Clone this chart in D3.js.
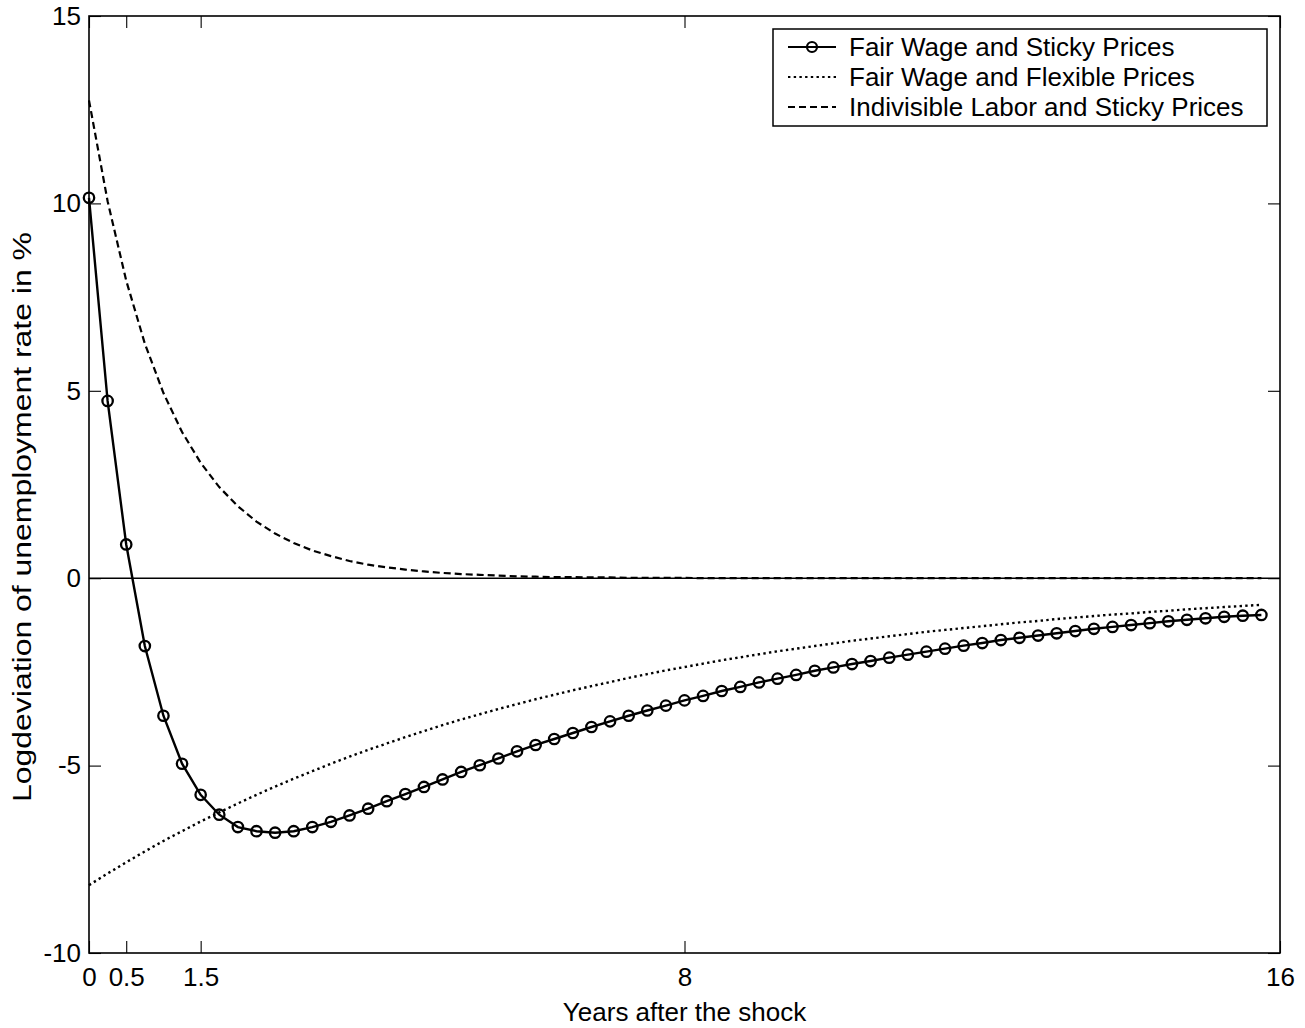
<!DOCTYPE html>
<html>
<head>
<meta charset="utf-8">
<script src="https://cdn.jsdelivr.net/npm/d3@7"></script>
<style>
  body { margin: 0; background: #fff; }
  svg text { font-family: "Liberation Sans", Arial, sans-serif; fill: #000; }
</style>
</head>
<body>
<div class="Graph"></div>
<script>
// quarterly grid, years after the shock
const quarters = [0,0.25,0.5,0.75,1,1.25,1.5,1.75,2,2.25,2.5,2.75,3,3.25,3.5,3.75,
  4,4.25,4.5,4.75,5,5.25,5.5,5.75,6,6.25,6.5,6.75,7,7.25,7.5,7.75,
  8,8.25,8.5,8.75,9,9.25,9.5,9.75,10,10.25,10.5,10.75,11,11.25,11.5,11.75,
  12,12.25,12.5,12.75,13,13.25,13.5,13.75,14,14.25,14.5,14.75,15,15.25,15.5,15.75];

// Fair Wage and Sticky Prices (solid + circles)
const fairSticky = [10.15,4.73,0.90,-1.81,-3.67,-4.95,-5.78,-6.31,-6.64,-6.75,
  -6.79,-6.75,-6.64,-6.50,-6.33,-6.15,-5.95,-5.76,-5.57,-5.37,
  -5.17,-4.99,-4.81,-4.62,-4.45,-4.29,-4.13,-3.97,-3.82,-3.67,
  -3.53,-3.40,-3.26,-3.14,-3.01,-2.90,-2.78,-2.68,-2.58,-2.47,
  -2.38,-2.29,-2.21,-2.12,-2.04,-1.96,-1.88,-1.80,-1.73,-1.65,
  -1.59,-1.53,-1.47,-1.41,-1.35,-1.30,-1.25,-1.20,-1.15,-1.11,
  -1.07,-1.03,-1.00,-0.98];

// Fair Wage and Flexible Prices (dotted)
const fairFlex = [-8.19,-7.88,-7.58,-7.29,-7.01,-6.75,-6.49,-6.25,-6.01,-5.78,
  -5.56,-5.35,-5.15,-4.95,-4.76,-4.58,-4.41,-4.24,-4.08,-3.92,
  -3.77,-3.63,-3.49,-3.36,-3.23,-3.11,-2.99,-2.88,-2.77,-2.66,
  -2.56,-2.46,-2.37,-2.28,-2.19,-2.11,-2.03,-1.95,-1.88,-1.81,
  -1.74,-1.67,-1.61,-1.55,-1.49,-1.43,-1.38,-1.33,-1.28,-1.23,
  -1.18,-1.14,-1.09,-1.05,-1.01,-0.97,-0.94,-0.90,-0.87,-0.83,
  -0.80,-0.77,-0.74,-0.71];

// Indivisible Labor and Sticky Prices (dashed)
const indivSticky = [12.75,10.06,7.94,6.26,4.94,3.90,3.08,2.43,1.92,1.51,
  1.19,0.94,0.74,0.59,0.46,0.36,0.29,0.23,0.18,0.14,
  0.11,0.09,0.07,0.05,0.04,0.03,0.03,0.02,0.02,0.01,
  0.01,0.01,0.01,0,0,0,0,0,0,0,
  0,0,0,0,0,0,0,0,0,0,
  0,0,0,0,0,0,0,0,0,0,
  0,0,0,0];

const xTicks = [0, 0.5, 1.5, 8, 16];
const yTicks = [-10, -5, 0, 5, 10, 15];
const legendLabels = ["Fair Wage and Sticky Prices", "Fair Wage and Flexible Prices", "Indivisible Labor and Sticky Prices"];

const W = 1305, H = 1028;
const L = 89, R = 1280, T = 16, B = 953;
const fs = 26;

const svg = d3.select(".Graph").append("svg")
  .attr("width", W).attr("height", H);

const x = d3.scaleLinear().domain([0, 16]).range([L, R]);
const y = d3.scaleLinear().domain([-10, 15]).range([B, T]);

// zero line
svg.append("line")
  .attr("x1", x(0)).attr("x2", x(16))
  .attr("y1", y(0)).attr("y2", y(0))
  .attr("stroke", "#000").attr("stroke-width", 1.4);

const line = d3.line().x((d, i) => x(quarters[i])).y(d => y(d));

svg.append("path").datum(indivSticky)
  .attr("d", line).attr("fill", "none")
  .attr("stroke", "#000").attr("stroke-width", 2.2)
  .attr("stroke-dasharray", "7,4");

svg.append("path").datum(fairFlex)
  .attr("d", line).attr("fill", "none")
  .attr("stroke", "#000").attr("stroke-width", 2.4)
  .attr("stroke-dasharray", "2.4,3.3");

svg.append("path").datum(fairSticky)
  .attr("d", line).attr("fill", "none")
  .attr("stroke", "#000").attr("stroke-width", 2.4);

svg.selectAll(".mk").data(fairSticky).enter()
  .append("circle").attr("class", "mk")
  .attr("cx", (d, i) => x(quarters[i]))
  .attr("cy", d => y(d))
  .attr("r", 5.2)
  .attr("fill", "none").attr("stroke", "#000").attr("stroke-width", 2.3);

// axes (ticks inside, box)
const gx = svg.append("g").attr("transform", "translate(0," + B + ")")
  .call(d3.axisBottom(x).tickValues(xTicks).tickSizeInner(-12).tickSizeOuter(0).tickPadding(15)
    .tickFormat(d3.format("")));
const gxt = svg.append("g").attr("transform", "translate(0," + T + ")")
  .call(d3.axisTop(x).tickValues(xTicks).tickSizeInner(-12).tickSizeOuter(0).tickFormat(""));
const gy = svg.append("g").attr("transform", "translate(" + L + ",0)")
  .call(d3.axisLeft(y).tickValues(yTicks).tickSizeInner(-12).tickSizeOuter(0).tickPadding(8)
    .tickFormat(d3.format("")));
const gyr = svg.append("g").attr("transform", "translate(" + R + ",0)")
  .call(d3.axisRight(y).tickValues(yTicks).tickSizeInner(-12).tickSizeOuter(0).tickFormat(""));

[gx, gxt, gy, gyr].forEach(g => {
  g.select(".domain").remove();
  g.selectAll("line").attr("stroke", "#000").attr("stroke-width", 1.1);
  g.selectAll("text").style("font-size", fs + "px").attr("font-family", null);
});
// plain hyphen minus like the original
gy.selectAll("text").text(d => String(d));

svg.append("rect")
  .attr("x", L).attr("y", T).attr("width", R - L).attr("height", B - T)
  .attr("fill", "none").attr("stroke", "#000").attr("stroke-width", 1.6);

// labels
svg.append("text")
  .attr("x", (L + R) / 2).attr("y", 1021)
  .attr("text-anchor", "middle").style("font-size", fs + "px")
  .text("Years after the shock");

svg.append("text")
  .attr("transform", "translate(31,517) rotate(-90)")
  .attr("text-anchor", "middle").style("font-size", fs + "px")
  .attr("textLength", 570).attr("lengthAdjust", "spacingAndGlyphs")
  .text("Logdeviation of unemployment rate in %");

// legend
const lg = svg.append("g");
lg.append("rect")
  .attr("x", 773).attr("y", 29).attr("width", 494).attr("height", 97)
  .attr("fill", "#fff").attr("stroke", "#000").attr("stroke-width", 1.5);

const rowY = [47, 77, 107];
const dashes = [null, "2.4,3.3", "7,4"];
legendLabels.forEach((lab, i) => {
  lg.append("line")
    .attr("x1", 788).attr("x2", 836)
    .attr("y1", rowY[i]).attr("y2", rowY[i])
    .attr("stroke", "#000").attr("stroke-width", 2.2)
    .attr("stroke-dasharray", dashes[i]);
  if (i === 0) {
    lg.append("circle").attr("cx", 812).attr("cy", rowY[i]).attr("r", 5)
      .attr("fill", "none").attr("stroke", "#000").attr("stroke-width", 2.2);
  }
  lg.append("text")
    .attr("x", 849).attr("y", rowY[i]).attr("dy", "0.36em")
    .style("font-size", fs + "px")
    .text(lab);
});
</script>
</body>
</html>
